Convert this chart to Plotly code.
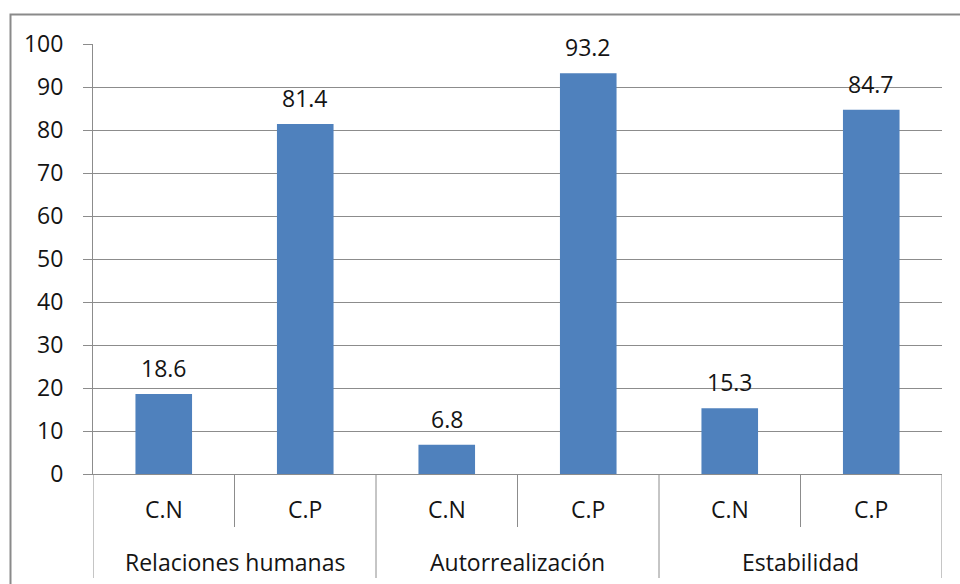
import plotly.graph_objects as go

# Data
groups = ["Relaciones humanas", "Autorrealización", "Estabilidad"]
subcats = ["C.N", "C.P", "C.N", "C.P", "C.N", "C.P"]
values = [18.6, 81.4, 6.8, 93.2, 15.3, 84.7]
y_ticks = list(range(0, 101, 10))

FONT = "Open Sans"
FS = 23
TEXT = "#141414"
GRID = "#8c8c8c"
BAR = "#4F81BD"

PLOT_H = 430  # plot-area height in px, used to turn px offsets into paper units

positions = list(range(len(values)))
per_group = len(subcats) // len(groups)

fig = go.Figure()
fig.add_trace(go.Bar(
    x=positions,
    y=values,
    marker=dict(color=BAR, line=dict(width=0)),
    width=0.4,
    hoverinfo="skip",
))

annotations = []
# value labels above the bars
for i, v in zip(positions, values):
    annotations.append(dict(
        x=i, xref="x", y=v, yref="y",
        text=f"{v:.1f}", showarrow=False,
        yanchor="middle", yshift=26,
        font=dict(family=FONT, size=FS, color=TEXT),
    ))
# inner category labels
for i, s in zip(positions, subcats):
    annotations.append(dict(
        x=i, xref="x", y=0, yref="paper",
        text=s, showarrow=False,
        yanchor="middle", yshift=-35,
        font=dict(family=FONT, size=FS, color=TEXT),
    ))
# group labels
for gi, g in enumerate(groups):
    annotations.append(dict(
        x=gi * per_group + (per_group - 1) / 2, xref="x", y=0, yref="paper",
        text=g, showarrow=False,
        yanchor="middle", yshift=-88,
        font=dict(family=FONT, size=FS, color=TEXT),
    ))

shapes = []
# separators between sub-categories (short) and groups (long)
for b in range(len(subcats) + 1):
    edge = b - 0.5
    long_sep = b % per_group == 0
    depth = 104 if long_sep else 53
    shapes.append(dict(
        type="line", xref="x", yref="paper",
        x0=edge, x1=edge, y0=0, y1=-depth / PLOT_H,
        line=dict(color=GRID, width=1),
    ))
# outer chart frame
shapes.append(dict(
    type="rect", xref="paper", yref="paper",
    x0=(10.5 - 93) / 849, x1=(970 - 93) / 849,
    y0=(474 - 600) / PLOT_H, y1=(474 - 14.5) / PLOT_H,
    line=dict(color="#8a8a8a", width=2), fillcolor="rgba(0,0,0,0)",
    layer="below",
))

fig.update_layout(
    width=960, height=584,
    margin=dict(l=93, r=18, t=44, b=110),
    paper_bgcolor="white", plot_bgcolor="white",
    showlegend=False,
    font=dict(family=FONT, size=FS, color=TEXT),
    annotations=annotations,
    shapes=shapes,
    xaxis=dict(
        range=[-0.5, len(values) - 0.5],
        showline=True, linecolor=GRID, linewidth=1,
        showticklabels=False, ticks="",
        showgrid=False, zeroline=False,
    ),
    yaxis=dict(
        range=[0, 100], tickvals=y_ticks,
        showgrid=True, gridcolor=GRID, gridwidth=1,
        showline=True, linecolor=GRID, linewidth=1,
        ticks="outside", ticklen=9, tickcolor=GRID,
        ticklabelstandoff=15,
        tickfont=dict(family=FONT, size=FS, color=TEXT),
        zeroline=False,
    ),
)

fig.write_html("out.html")
